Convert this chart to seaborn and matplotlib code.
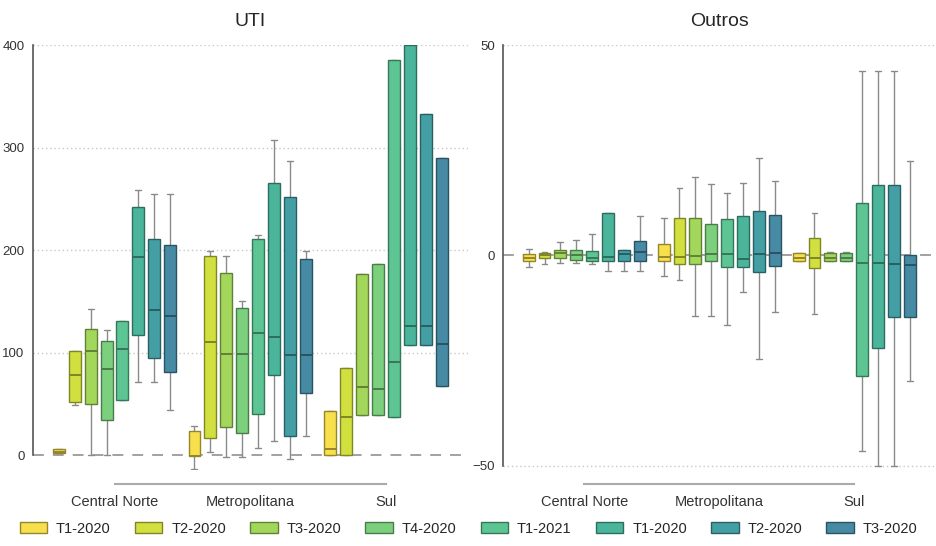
import numpy as np
import pandas as pd
import matplotlib
matplotlib.use("Agg")
import matplotlib.pyplot as plt
import matplotlib.colors as mcolors
from matplotlib.patches import Patch
import seaborn as sns

# categories and series
regions = ["Central Norte", "Metropolitana", "Sul"]
periods = ["T1-2020", "T2-2020", "T3-2020", "T4-2020", "T1-2021", "T1-2020", "T2-2020", "T3-2020"]
colors = ["#f7e04b", "#d2e03f", "#a3d75c", "#7ccf7c", "#5dc593", "#4bb59c", "#449fa5", "#468aa3"]

# UTI - box summaries (whisker low, q1, median, q3, whisker high), one row per region
uti_lo = [[2, 49, 0, 0, 54, 71.5, 71.5, 44],
          [-14, 2.6, -1.6, -1.6, 7, 13.7, -3.3, 19],
          [0, 0, 39, 39, 37.4, 107, 107, 67.6]]
uti_q1 = [[2, 52, 50, 34, 54, 116.7, 94.3, 80.7],
          [-1, 17.2, 27, 22, 40, 77.7, 18.9, 60.8],
          [0, 0, 39, 39, 37.4, 107, 107, 67.6]]
uti_med = [[3.5, 78, 102, 84, 104, 193, 142, 136],
           [-0.5, 110, 99, 99, 119, 114.8, 97.6, 97.6],
           [6, 37.4, 66.3, 64.7, 91, 126, 126, 108.6]]
uti_q3 = [[6, 101.8, 123, 111, 131, 241.6, 210.7, 204.6],
          [23.4, 193.8, 178, 143.7, 210.7, 265.7, 252, 191.5],
          [42.6, 85, 177, 186, 385, 400, 332.7, 289.8]]
uti_hi = [[6, 102, 143, 122, 131, 259, 255, 255],
          [28.6, 199, 194, 150.5, 215, 307, 287, 199],
          [42.6, 85, 177, 186, 385, 400, 332.7, 289.8]]

# Outros
out_lo = [[-2.8, -2, -1.9, -1.9, -2, -3.7, -3.7, -3.7],
          [-4.9, -5.8, -14.4, -14.4, -16.5, -8.6, -24.7, -13.5],
          [-1.3, -14, -1.4, -1.4, -46.4, -50, -50, -29.8]]
out_q1 = [[-1.3, -0.6, -0.6, -1, -1.3, -1.3, -1.3, -1.3],
          [-1.3, -2.1, -2.1, -1.3, -2.8, -2.8, -3.9, -2.5],
          [-1.3, -3, -1.4, -1.4, -28.7, -22.1, -14.6, -14.6]]
out_med = [[-0.6, 0, 0.5, 0, -0.5, -0.4, 0.4, 0.9],
           [-0.3, -0.4, -0.2, 0.3, 0.3, -0.9, 0.3, 0.5],
           [-0.5, -0.6, -0.5, -0.5, -1.7, -1.7, -2, -2.2]]
out_q3 = [[0.3, 0.6, 1.4, 1.4, 1.1, 10.1, 1.3, 3.5],
          [2.7, 8.9, 8.9, 7.5, 8.7, 9.4, 10.5, 9.7],
          [0.7, 4.1, 0.5, 0.5, 12.4, 16.8, 16.8, 0.2]]
out_hi = [[1.6, 0.9, 3.3, 3.7, 5, 10.1, 1.3, 9.3],
          [8.9, 16.1, 18.7, 17, 14.9, 17.2, 23.1, 17.8],
          [0.7, 10.1, 0.8, 0.8, 43.8, 43.8, 43.8, 22.4]]


def long_table(lo, q1, med, q3, hi):
    # 5 points per box -> quartiles land exactly on q1/med/q3, whis=(0,100) gives lo/hi
    rows = []
    for r, reg in enumerate(regions):
        for s in range(len(periods)):
            for v in (lo[r][s], q1[r][s], med[r][s], q3[r][s], hi[r][s]):
                rows.append({"regiao": reg, "serie": "s%d" % s, "valor": v})
    return pd.DataFrame(rows)


def darker(c, f=0.6):
    return tuple(np.array(mcolors.to_rgb(c)) * f)


sns.set_style("white")
plt.rcParams["font.family"] = ["Liberation Sans", "DejaVu Sans"]

hue_keys = ["s%d" % i for i in range(len(periods))]
pal = dict(zip(hue_keys, colors))

fig = plt.figure(figsize=(9.37, 5.46), dpi=100)
ax1 = fig.add_axes([0.0352, 0.139, 0.464, 0.7785])
ax2 = fig.add_axes([0.537, 0.139, 0.461, 0.7785])

panels = [
    (ax1, long_table(uti_lo, uti_q1, uti_med, uti_q3, uti_hi), "UTI", (-14.6, 400), [0, 100, 200, 300, 400]),
    (ax2, long_table(out_lo, out_q1, out_med, out_q3, out_hi), "Outros", (-51, 50), [-50, 0, 50]),
]

for ax, df, title, ylim, yticks in panels:
    sns.boxplot(data=df, x="regiao", y="valor", hue="serie", hue_order=hue_keys,
                palette=pal, whis=(0, 100), width=0.94, gap=0.25, linewidth=1,
                fliersize=0, legend=False, saturation=1, ax=ax)

    for i, cont in enumerate(ax.containers):
        dk = darker(colors[i])
        for b in cont.boxes:
            b.set_edgecolor(dk)
            b.set_zorder(3)
        for m in cont.medians:
            m.set_color(dk)
            m.set_linewidth(1.4)
            m.set_zorder(4)
        for w in cont.whiskers:
            w.set_color("#8a8a8a")
            w.set_zorder(2)
        for c in cont.caps:
            c.set_color("#8a8a8a")
            c.set_zorder(2)

    ax.set_xlim(-0.6, 2.6)
    ax.set_ylim(*ylim)
    ax.set_yticks(yticks)
    ax.set_xlabel("")
    ax.set_ylabel("")
    ax.set_title(title, fontsize=14, pad=14)

    for t in yticks:
        if t != 0:
            ax.axhline(t, color="#c8c8c8", lw=1, ls=(0, (1, 2)), zorder=0)
    ax.axhline(0, color="#9a9a9a", lw=1.3, ls=(0, (6, 5)), zorder=1)

    sns.despine(ax=ax)
    ax.spines["left"].set_bounds(yticks[0], yticks[-1])
    ax.spines["left"].set_color("#555555")
    ax.spines["left"].set_linewidth(1.2)
    ax.spines["bottom"].set_bounds(0, 2)
    ax.spines["bottom"].set_position(("outward", 10))
    ax.spines["bottom"].set_color("#aaaaaa")
    ax.spines["bottom"].set_linewidth(1.5)
    ax.tick_params(axis="x", length=0, pad=8, labelsize=10.5, labelcolor="#333333")
    ax.tick_params(axis="y", length=4, color="#555555", labelsize=9.5, labelcolor="#333333", pad=2)

handles = [Patch(facecolor=c, edgecolor=darker(c)) for c in colors]
fig.legend(handles, periods, ncol=8, loc="lower center", bbox_to_anchor=(0.5, -0.005),
           frameon=False, fontsize=10.5, handlelength=1.9, handleheight=0.75,
           columnspacing=1.65, handletextpad=0.6)

fig.savefig("out.png", dpi=100)
